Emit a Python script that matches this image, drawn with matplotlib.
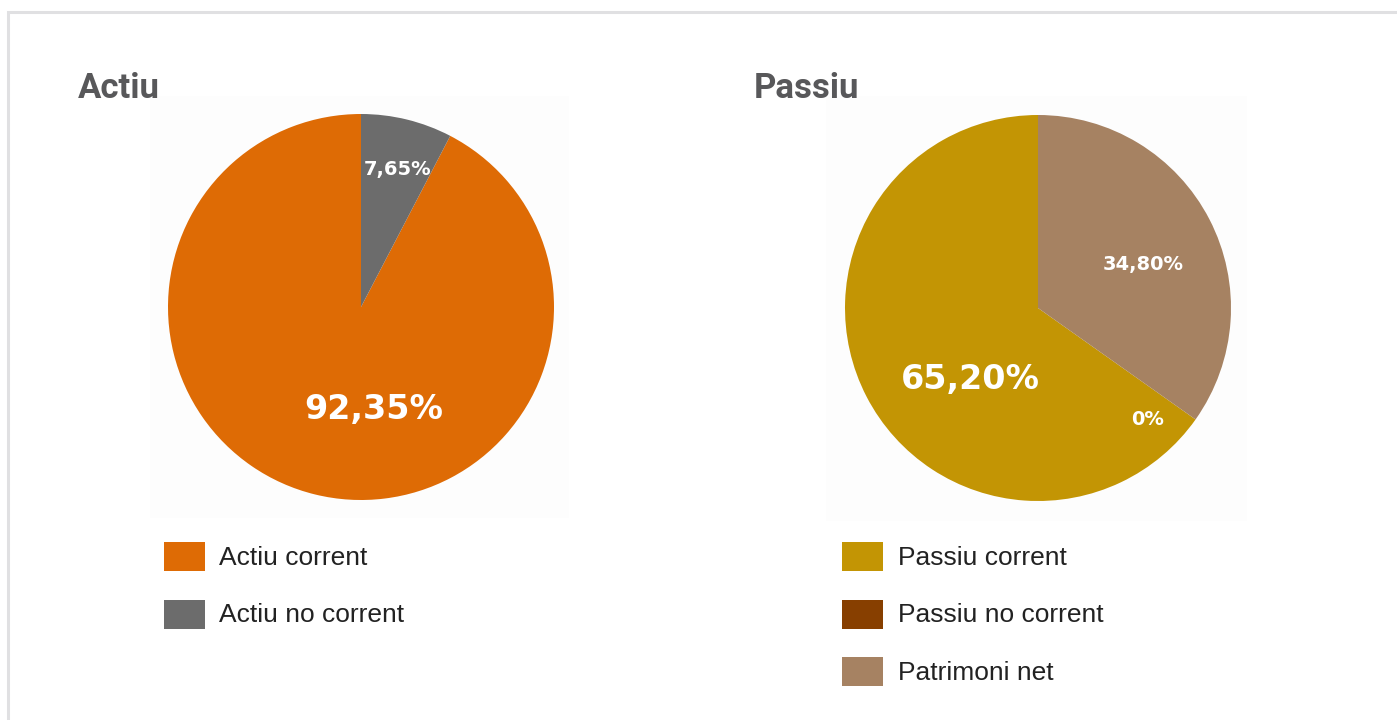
import matplotlib
matplotlib.use("Agg")
import matplotlib.pyplot as plt
from matplotlib.patches import Rectangle

# ---- data ----
actiu_labels = ["Actiu corrent", "Actiu no corrent"]
actiu_values = [92.35, 7.65]
passiu_labels = ["Passiu corrent", "Passiu no corrent", "Patrimoni net"]
passiu_values = [65.20, 0.0, 34.80]
titles = ["Actiu", "Passiu"]

actiu_colors = ["#DE6B05", "#6C6C6C"]
passiu_colors = ["#C39504", "#873F00", "#A68262"]

W, H = 1397, 720
fig = plt.figure(figsize=(W / 100, H / 100), dpi=100)
fig.patch.set_facecolor("white")


def fx(x):
    return x / W


def fy(y):
    return 1 - y / H


def fmt(v):
    if v == 0:
        return "0%"
    return f"{v:.2f}".replace(".", ",") + "%"


# outer border (top and left edges visible, the rest runs off the canvas)
fig.patches.append(Rectangle((fx(7.5), fy(800)), fx(1500), (800 - 11.5) / H,
                             transform=fig.transFigure, facecolor="none",
                             edgecolor="#e0e0e2", linewidth=2.2, zorder=-2))

# faint image backgrounds
for (x0, y0, x1, y1) in [(150, 96, 569, 518), (826, 96, 1247, 521)]:
    fig.patches.append(Rectangle((fx(x0), fy(y1)), fx(x1 - x0), (y1 - y0) / H,
                                 transform=fig.transFigure, facecolor="#fdfdfd",
                                 edgecolor="none", zorder=-1))

panels = [
    dict(values=actiu_values, labels=actiu_labels, colors=actiu_colors,
         center=(361, 307), title=titles[0], title_xy=(78, 98),
         label_pos=[(0.065, -0.53), (0.19, 0.71)], label_size=[24, 14],
         legend_x=164, legend_tx=219),
    dict(values=passiu_values, labels=passiu_labels, colors=passiu_colors,
         center=(1038, 308), title=titles[1], title_xy=(754, 98),
         label_pos=[(-0.35, -0.37), (0.57, -0.58), (0.545, 0.225)],
         label_size=[24, 14, 14],
         legend_x=842, legend_tx=898),
]

R = 193
for p in panels:
    cx, cy = p["center"]
    ax = fig.add_axes([fx(cx - R), fy(cy + R), 2 * R / W, 2 * R / H])
    ax.pie(p["values"], colors=p["colors"], startangle=90, counterclock=True,
           radius=1.0, wedgeprops=dict(linewidth=0))
    ax.set_xlim(-1, 1)
    ax.set_ylim(-1, 1)
    ax.set_aspect("auto")
    ax.axis("off")
    for v, (lx, ly), s in zip(p["values"], p["label_pos"], p["label_size"]):
        ax.text(lx, ly, fmt(v), color="white", fontsize=s, fontweight="bold",
                family="DejaVu Sans", ha="center", va="center")

    tx, ty = p["title_xy"]
    fig.text(fx(tx), fy(ty), p["title"], fontsize=25, fontweight="bold",
             family="Roboto", color="#58585a", ha="left", va="baseline")

    for i, (lab, col) in enumerate(zip(p["labels"], p["colors"])):
        top = 542 + i * 57.5
        fig.patches.append(Rectangle((fx(p["legend_x"]), fy(top + 29)), 41 / W, 29 / H,
                                     transform=fig.transFigure, facecolor=col,
                                     edgecolor="none", zorder=1))
        fig.text(fx(p["legend_tx"]), fy(top + 23), lab, fontsize=19,
                 family="Liberation Sans", color="#222222",
                 ha="left", va="baseline")

fig.savefig("out.png", dpi=100, facecolor="white")
